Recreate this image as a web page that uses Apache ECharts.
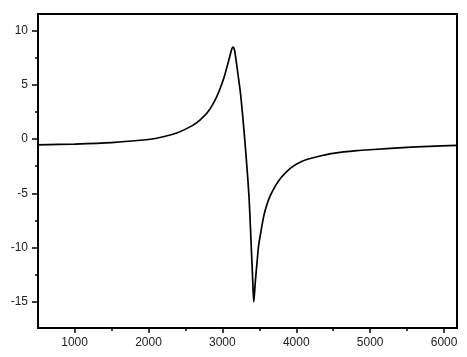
<!DOCTYPE html>
<html><head><meta charset="utf-8">
<script src="https://cdn.jsdelivr.net/npm/echarts@6/dist/echarts.min.js"></script>
<style>html,body{margin:0;padding:0;background:#fff}#c{width:467px;height:357px}</style>
</head><body><div id="c"></div>
<script>
const xValues = [505, 1000, 1500, 2000, 2200, 2400, 2600, 2700, 2800, 2880, 2950, 3020, 3085, 3120, 3140, 3160, 3180, 3210, 3250, 3310, 3360, 3390, 3410, 3425, 3445, 3470, 3490, 3520, 3560, 3600, 3650, 3720, 3790, 3870, 3960, 4080, 4190, 4350, 4500, 4820, 5050, 5500, 5800, 6175];
const yValues = [-0.55, -0.47, -0.33, -0.05, 0.2, 0.6, 1.25, 1.75, 2.45, 3.3, 4.3, 5.6, 7.2, 8.1, 8.45, 8.3, 7.5, 6.0, 3.9, -0.66, -5.3, -9.8, -12.9, -15.0, -13.2, -11.3, -9.85, -8.6, -7.1, -6.1, -5.2, -4.3, -3.6, -3.0, -2.5, -2.05, -1.8, -1.52, -1.32, -1.08, -0.97, -0.77, -0.68, -0.6];
const xTickLabels = [1000, 2000, 3000, 4000, 5000, 6000];
const xMinorTicks = [1500, 2500, 3500, 4500, 5500];
const yTickLabels = [-15, -10, -5, 0, 5, 10];
const yMinorTicks = [-12.5, -7.5, -2.5, 2.5, 7.5];

const chart = echarts.init(document.getElementById('c'), null, {renderer: 'canvas'});
const font = {fontFamily: 'Liberation Sans, Arial, sans-serif', fontSize: 12, color: '#222', formatter: v => String(v)};
const X_MIN = 505, X_MAX = 6175, Y_MIN = -17.4, Y_MAX = 11.5;
const data = xValues.map((x, i) => [x, yValues[i]]);
chart.setOption({
  animation: false,
  backgroundColor: '#fff',
  grid: {left: 38, top: 14, width: 419, height: 314, show: true, borderColor: '#000', borderWidth: 2, backgroundColor: 'transparent'},
  xAxis: [
    {type: 'value', min: X_MIN, max: X_MAX, position: 'bottom',
     axisLine: {show: true, onZero: false, lineStyle: {color: '#000', width: 2}},
     axisTick: {show: true, length: 5, customValues: xTickLabels, lineStyle: {color: '#000', width: 1.5}},
     axisLabel: {show: true, customValues: xTickLabels, margin: 9, ...font},
     splitLine: {show: false}},
    {type: 'value', min: X_MIN, max: X_MAX, position: 'bottom',
     axisLine: {show: false, onZero: false},
     axisTick: {show: true, length: 3, customValues: xMinorTicks, lineStyle: {color: '#000', width: 1.5}},
     axisLabel: {show: false},
     splitLine: {show: false}}
  ],
  yAxis: [
    {type: 'value', min: Y_MIN, max: Y_MAX, position: 'left',
     axisLine: {show: true, onZero: false, lineStyle: {color: '#000', width: 2}},
     axisTick: {show: true, length: 6, customValues: yTickLabels, lineStyle: {color: '#000', width: 1.5}},
     axisLabel: {show: true, customValues: yTickLabels, margin: 10, ...font},
     splitLine: {show: false}},
    {type: 'value', min: Y_MIN, max: Y_MAX, position: 'left',
     axisLine: {show: false, onZero: false},
     axisTick: {show: true, length: 3, customValues: yMinorTicks, lineStyle: {color: '#000', width: 1.5}},
     axisLabel: {show: false},
     splitLine: {show: false}}
  ],
  series: [{
    type: 'line', data: data, xAxisIndex: 0, yAxisIndex: 0,
    showSymbol: false, smooth: 0.3,
    lineStyle: {color: '#000', width: 1.7}
  }]
});
</script></body></html>
